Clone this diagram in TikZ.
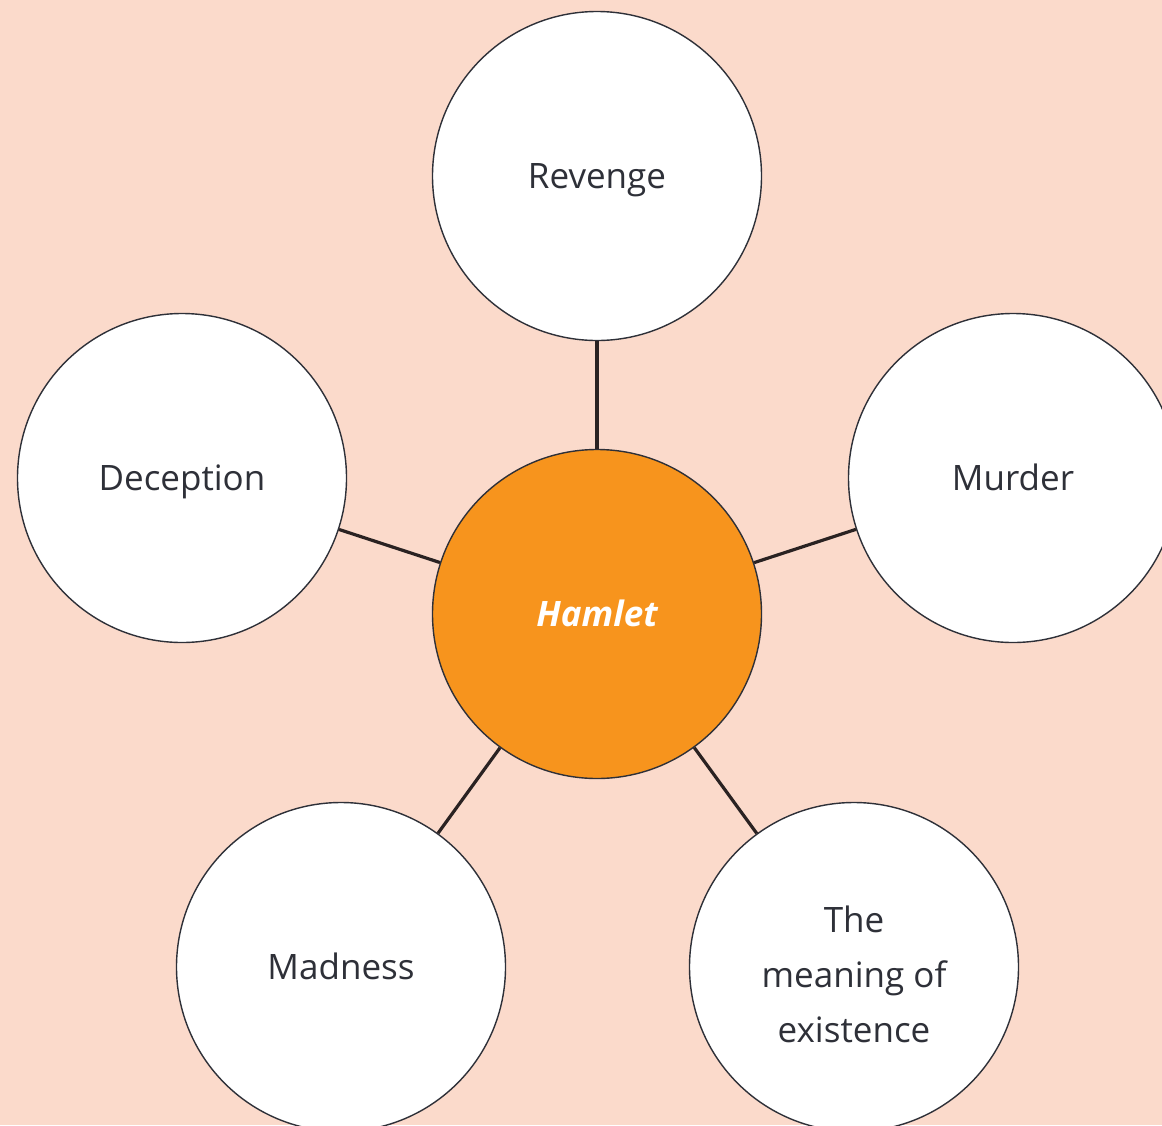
\documentclass[tikz,border=0pt]{standalone}
\usepackage{fontspec}
\setmainfont{Open Sans}
\definecolor{bgpeach}{HTML}{FBDACB}
\definecolor{hub}{HTML}{F7941D}
\definecolor{ink}{HTML}{2E3038}
\definecolor{spoke}{HTML}{2A2222}
\begin{document}
\begin{tikzpicture}[x=1pt,y=-1pt,
  theme/.style={circle,draw=ink,line width=1.4pt,fill=white,minimum size=329pt,inner sep=0pt,
    text=ink,font=\fontsize{35}{55}\selectfont,align=center},
  oneline/.style={text height=25pt,text depth=0pt},
  centre/.style={theme,oneline,fill=hub,text=white,font=\fontsize{35}{42}\selectfont\bfseries\itshape},
  link/.style={draw=spoke,line width=3.2pt}]
  \useasboundingbox[fill=bgpeach] (0,0) rectangle (1162,1125);
  \node[centre] (hamlet) at (597,614) {Hamlet};
  \node[theme,oneline] (revenge) at (597,176) {Revenge};
  \node[theme,oneline] (deception) at (182,478) {Deception};
  \node[theme,oneline] (murder) at (1013,478) {Murder};
  \node[theme,oneline] (madness) at (341,967) {Madness};
  \node[theme] (meaning) at (854,967) {};
  \node[text=ink,font=\fontsize{35}{55}\selectfont,align=center] (meaningtext)
    at ([yshift=-7pt]meaning.center) {The\\meaning of\\existence};
  \foreach \t in {revenge,deception,murder,madness,meaning}
    \draw[link] (hamlet) -- (\t);
\end{tikzpicture}
\end{document}
